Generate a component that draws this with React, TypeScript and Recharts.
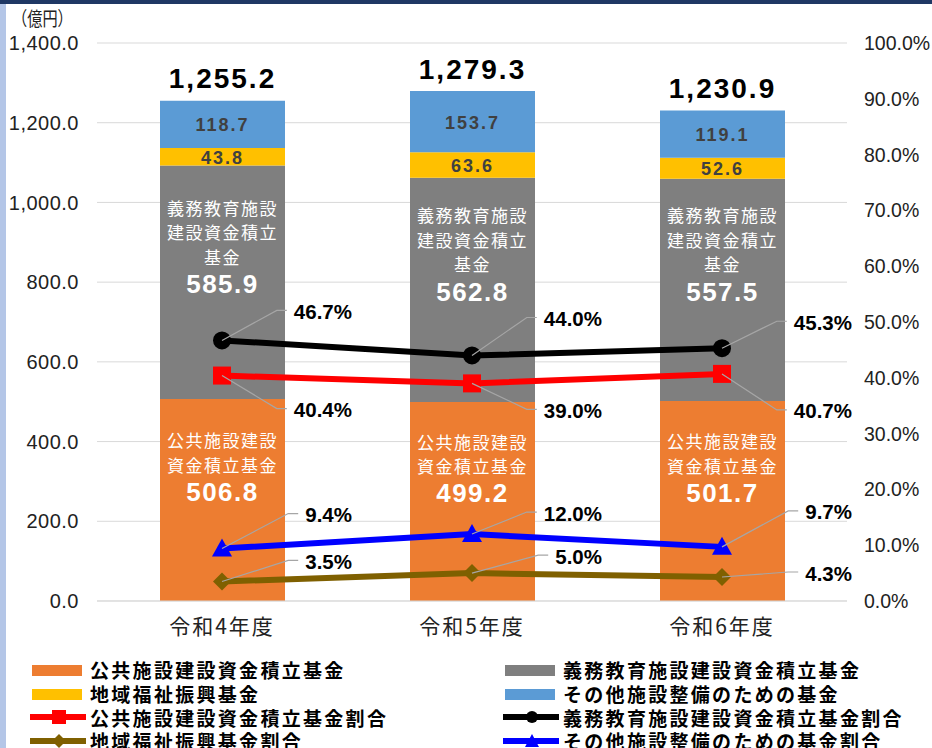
import React from "react";
import {
  ComposedChart,
  Bar,
  Line,
  XAxis,
  YAxis,
  CartesianGrid,
  LabelList,
} from "recharts";

const categories = ["令和4年度", "令和5年度", "令和6年度"];
const koukyou = [506.8, 499.2, 501.7];
const gimu = [585.9, 562.8, 557.5];
const chiiki = [43.8, 63.6, 52.6];
const sonota = [118.7, 153.7, 119.1];
const totals = [1255.2, 1279.3, 1230.9];
const koukyouRatio = [40.4, 39.0, 40.7];
const gimuRatio = [46.7, 44.0, 45.3];
const chiikiRatio = [3.5, 5.0, 4.3];
const sonotaRatio = [9.4, 12.0, 9.7];
const leftTicks = [0, 200, 400, 600, 800, 1000, 1200, 1400];
const rightTicks = [0, 10, 20, 30, 40, 50, 60, 70, 80, 90, 100];

// where each percent label sits relative to its point (vertical offset)
const gimuDy = [-29, -37, -26];
const koukyouDy = [34, 27, 37];
const sonotaDy = [-34, -21, -35];
const chiikiDy = [-20, -17, -4];

const data = categories.map((name, i) => ({
  name,
  koukyou: koukyou[i],
  gimu: gimu[i],
  chiiki: chiiki[i],
  sonota: sonota[i],
  koukyouRatio: koukyouRatio[i],
  gimuRatio: gimuRatio[i],
  chiikiRatio: chiikiRatio[i],
  sonotaRatio: sonotaRatio[i],
}));

const NUM_FONT = "'Liberation Sans', Arial, sans-serif";
const JP_FONT = "'Noto Sans CJK JP', sans-serif";

const fmt1 = (v: number) =>
  v.toLocaleString("en-US", { minimumFractionDigits: 1, maximumFractionDigits: 1 });

const SegmentText = (props: any, lines: string[], offset: number) => {
  const { x, y, width, height, value } = props;
  const cx = x + width / 2;
  const top = y + height / 2 + offset - (lines.length * 25 + 23) / 2;
  return (
    <g>
      {lines.map((l, k) => (
        <text
          key={k}
          x={cx}
          y={top + 11 + k * 24.5}
          textAnchor="middle"
          dominantBaseline="central"
          fill="#fff"
          fontFamily={JP_FONT}
          fontSize={17}
          letterSpacing={1.5}
        >
          {l}
        </text>
      ))}
      <text
        x={cx}
        y={top + 13 + lines.length * 25}
        textAnchor="middle"
        dominantBaseline="central"
        fill="#fff"
        fontFamily={NUM_FONT}
        fontWeight="bold"
        fontSize={26}
        letterSpacing={1.5}
      >
        {fmt1(value)}
      </text>
    </g>
  );
};

const SmallText = (props: any) => {
  const { x, y, width, height, value } = props;
  return (
    <text
      x={x + width / 2}
      y={y + height / 2 + 1}
      textAnchor="middle"
      dominantBaseline="central"
      fill="#404040"
      fontFamily={NUM_FONT}
      fontWeight="bold"
      fontSize={18}
      letterSpacing={2}
    >
      {fmt1(value)}
    </text>
  );
};

const TotalText = (props: any) => {
  const { x, y, width, index } = props;
  return (
    <text
      x={x + width / 2}
      y={y - 22}
      textAnchor="middle"
      dominantBaseline="central"
      fill="#000"
      fontFamily={NUM_FONT}
      fontWeight="bold"
      fontSize={28}
      letterSpacing={2}
    >
      {fmt1(totals[index])}
    </text>
  );
};

const PctLabel = (props: any, dys: number[]) => {
  const { x, y, value, index } = props;
  const text = `${value.toFixed(1)}%`;
  const digits = text.replace(/[^0-9]/g, "").length;
  const w = digits * 11.4 + 5.8 + 18.2;
  const right = x + 130;
  const left = right - w;
  const ly = y + dys[index];
  return (
    <g>
      <polyline
        points={`${x},${y} ${left - 17},${ly - 1} ${left - 7},${ly - 1}`}
        fill="none"
        stroke="#a6a6a6"
        strokeWidth={1.2}
      />
      <text
        x={right}
        y={ly}
        textAnchor="end"
        dominantBaseline="central"
        fill="#000"
        fontFamily={NUM_FONT}
        fontWeight="bold"
        fontSize={20.5}
      >
        {text}
      </text>
    </g>
  );
};

const SquareDot = (props: any) => (
  <rect key={props.index} x={props.cx - 9} y={props.cy - 9} width={18} height={18} fill="#ff0000" />
);
const CircleDot = (props: any) => (
  <circle key={props.index} cx={props.cx} cy={props.cy} r={9} fill="#000" />
);
const TriangleDot = (props: any) => (
  <polygon
    key={props.index}
    points={`${props.cx},${props.cy - 10} ${props.cx + 10},${props.cy + 8} ${props.cx - 10},${props.cy + 8}`}
    fill="#0000ff"
  />
);
const DiamondDot = (props: any) => (
  <polygon
    key={props.index}
    points={`${props.cx},${props.cy - 9} ${props.cx + 9},${props.cy} ${props.cx},${props.cy + 9} ${props.cx - 9},${props.cy}`}
    fill="#7f6000"
  />
);

const legendItems = [
  { label: "公共施設建設資金積立基金", color: "#ed7d31", kind: "bar" },
  { label: "義務教育施設建設資金積立基金", color: "#7f7f7f", kind: "bar" },
  { label: "地域福祉振興基金", color: "#ffc000", kind: "bar" },
  { label: "その他施設整備のための基金", color: "#5b9bd5", kind: "bar" },
  { label: "公共施設建設資金積立基金割合", color: "#ff0000", kind: "square" },
  { label: "義務教育施設建設資金積立基金割合", color: "#000000", kind: "circle" },
  { label: "地域福祉振興基金割合", color: "#7f6000", kind: "diamond" },
  { label: "その他施設整備のための基金割合", color: "#0000ff", kind: "triangle" },
];

const LegendIcon = ({ color, kind }: { color: string; kind: string }) => (
  <svg width={56} height={16} style={{ display: "block", flex: "none" }}>
    {kind === "bar" ? (
      <rect x={2} y={3} width={50} height={11} fill={color} />
    ) : (
      <g>
        <line x1={0} y1={8} x2={55} y2={8} stroke={color} strokeWidth={6} strokeLinecap="round" />
        {kind === "square" && <rect x={22} y={1} width={14} height={14} fill={color} />}
        {kind === "circle" && <circle cx={29} cy={8} r={6} fill={color} />}
        {kind === "diamond" && <polygon points="29,1 36,8 29,15 22,8" fill={color} />}
        {kind === "triangle" && <polygon points="29,1 36,14 22,14" fill={color} />}
      </g>
    )}
  </svg>
);

export default function App() {
  return (
    <div
      style={{
        position: "absolute",
        left: 0,
        top: 0,
        width: 932,
        height: 748,
        background: "#fff",
        overflow: "hidden",
      }}
    >
      <div style={{ position: "absolute", left: 0, top: 0, width: 932, height: 4, background: "#1f3864" }} />
      <div style={{ position: "absolute", left: 0, top: 4, width: 6, height: 744, background: "#b4c6e7" }} />
      <div
        style={{
          position: "absolute",
          left: 12,
          top: 5,
          fontFamily: JP_FONT,
          fontSize: 19,
          lineHeight: "26px",
          color: "#222",
          transform: "scaleX(0.8)",
          transformOrigin: "left center",
          whiteSpace: "nowrap",
        }}
      >
        （億円）
      </div>
      <ComposedChart
        width={932}
        height={660}
        data={data}
        margin={{ top: 43, right: 0, bottom: 0, left: 0 }}
        barCategoryGap="50%"
      >
        <CartesianGrid vertical={false} stroke="#d9d9d9" yAxisId="left" />
        <XAxis
          dataKey="name"
          height={59}
          tickLine={false}
          axisLine={{ stroke: "#d9d9d9" }}
          tickSize={0}
          tickMargin={18}
          tick={{ fill: "#222", fontFamily: JP_FONT, fontSize: 21, letterSpacing: 2 }}
        />
        <YAxis
          yAxisId="left"
          width={97}
          domain={[0, 1400]}
          ticks={leftTicks}
          tickFormatter={(v: number) => fmt1(v)}
          tickLine={false}
          axisLine={false}
          tickSize={0}
          tickMargin={18}
          tick={{ fill: "#222", fontFamily: NUM_FONT, fontSize: 20, letterSpacing: 0.5 }}
        />
        <YAxis
          yAxisId="right"
          orientation="right"
          width={85}
          domain={[0, 100]}
          ticks={rightTicks}
          tickFormatter={(v: number) => `${v.toFixed(1)}%`}
          tickLine={false}
          axisLine={false}
          tickSize={0}
          tickMargin={17}
          tick={{ fill: "#222", fontFamily: NUM_FONT, fontSize: 19.5 }}
        />
        <Bar yAxisId="left" dataKey="koukyou" stackId="a" fill="#ed7d31" barSize={125} isAnimationActive={false}>
          <LabelList
            dataKey="koukyou"
            content={(p: any) => SegmentText(p, ["公共施設建設", "資金積立基金"], -35)}
          />
        </Bar>
        <Bar yAxisId="left" dataKey="gimu" stackId="a" fill="#7f7f7f" barSize={125} isAnimationActive={false}>
          <LabelList
            dataKey="gimu"
            content={(p: any) => SegmentText(p, ["義務教育施設", "建設資金積立", "基金"], -37)}
          />
        </Bar>
        <Bar yAxisId="left" dataKey="chiiki" stackId="a" fill="#ffc000" barSize={125} isAnimationActive={false}>
          <LabelList dataKey="chiiki" content={SmallText} />
        </Bar>
        <Bar yAxisId="left" dataKey="sonota" stackId="a" fill="#5b9bd5" barSize={125} isAnimationActive={false}>
          <LabelList dataKey="sonota" content={SmallText} />
          <LabelList dataKey="sonota" content={TotalText} />
        </Bar>
        <Line
          yAxisId="right"
          dataKey="gimuRatio"
          stroke="#000"
          strokeWidth={6}
          dot={CircleDot}
          activeDot={false}
          isAnimationActive={false}
        >
          <LabelList dataKey="gimuRatio" content={(p: any) => PctLabel(p, gimuDy)} />
        </Line>
        <Line
          yAxisId="right"
          dataKey="koukyouRatio"
          stroke="#ff0000"
          strokeWidth={6}
          dot={SquareDot}
          activeDot={false}
          isAnimationActive={false}
        >
          <LabelList dataKey="koukyouRatio" content={(p: any) => PctLabel(p, koukyouDy)} />
        </Line>
        <Line
          yAxisId="right"
          dataKey="sonotaRatio"
          stroke="#0000ff"
          strokeWidth={6}
          dot={TriangleDot}
          activeDot={false}
          isAnimationActive={false}
        >
          <LabelList dataKey="sonotaRatio" content={(p: any) => PctLabel(p, sonotaDy)} />
        </Line>
        <Line
          yAxisId="right"
          dataKey="chiikiRatio"
          stroke="#7f6000"
          strokeWidth={6}
          dot={DiamondDot}
          activeDot={false}
          isAnimationActive={false}
        >
          <LabelList dataKey="chiikiRatio" content={(p: any) => PctLabel(p, chiikiDy)} />
        </Line>
      </ComposedChart>
      <div
        style={{
          position: "absolute",
          left: 30,
          top: 658,
          width: 900,
          display: "grid",
          gridTemplateColumns: "473px 427px",
        }}
      >
        {legendItems.map((it) => (
          <div key={it.label} style={{ display: "flex", alignItems: "center", height: 23.7 }}>
            <LegendIcon color={it.color} kind={it.kind} />
            <span
              style={{
                marginLeft: 4,
                fontFamily: JP_FONT,
                fontWeight: "bold",
                fontSize: 19,
                letterSpacing: 2.3,
                color: "#000",
                whiteSpace: "nowrap",
                lineHeight: "23px",
              }}
            >
              {it.label}
            </span>
          </div>
        ))}
      </div>
    </div>
  );
}
